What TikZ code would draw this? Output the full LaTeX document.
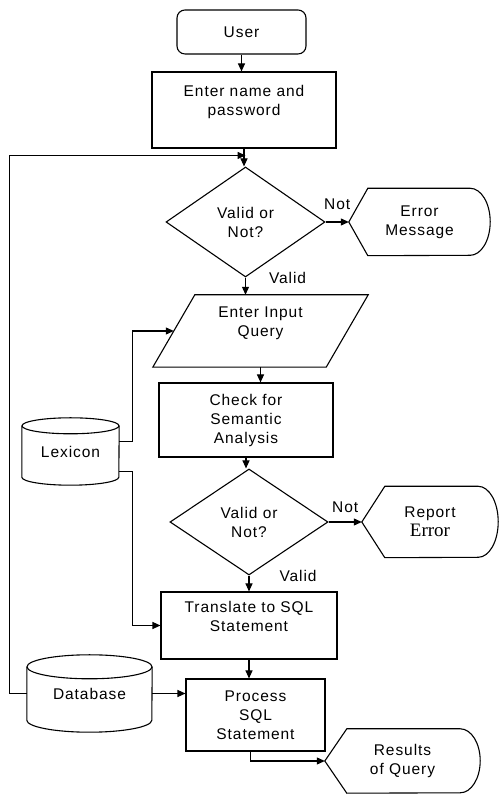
\documentclass[tikz,border=0pt]{standalone}
\usepackage{fontspec}
\setmainfont{Liberation Sans}[LetterSpace=6]
\newfontfamily\errserif{Liberation Serif}
\usepackage{tikz}
\usetikzlibrary{shapes.geometric,arrows.meta}

\tikzset{
  every node/.style={font=\fontsize{15.5}{19}\selectfont, align=center, inner sep=0pt},
  flowline/.style={line width=1.1pt},
  arr/.style={flowline, -{Triangle[length=8pt,width=7pt]}},
  procbox/.style={draw, flowline, rectangle},
  term/.style={draw, flowline, rectangle, rounded corners=8pt},
  decision/.style={draw, flowline, diamond}
}

\begin{document}
\begin{tikzpicture}[x=1pt,y=1pt]
\useasboundingbox (0,0) rectangle (500,794);

% main column
\node[term, minimum width=129pt, minimum height=44pt] (user) at (241.5,762) {User};
\node[procbox, minimum width=184pt, minimum height=76pt] (login) at (244,684) {Enter name and\\password\\\mbox{}};
\node[decision, minimum width=159pt, minimum height=110pt] (chk1) at (245.5,572) {Valid or\\Not?};
\node[minimum width=173pt, minimum height=72pt] (query) at (260.5,463) {Enter Input\\Query\\\mbox{}};
\node[procbox, minimum width=174pt, minimum height=74pt] (sem) at (246,374) {Check for\\Semantic\\Analysis};
\node[decision, minimum width=158pt, minimum height=106pt] (chk2) at (249,272) {Valid or\\Not?};
\node[procbox, minimum width=176pt, minimum height=67pt] (trans) at (249,168.5) {Translate to SQL\\Statement\\\mbox{}};
\node[procbox, minimum width=139pt, minimum height=72pt] (proc) at (255.5,79) {Process\\SQL\\Statement};

% side nodes
\node[minimum width=141pt, minimum height=67pt] (errmsg) at (419.5,572) {Error\\Message};
\node[minimum width=136pt, minimum height=71pt] (report) at (430,272) {Report\\{\errserif\fontsize{19}{23}\selectfont Error}};
\node[minimum width=155pt, minimum height=64pt] (result) at (402.5,33) {Results\\of Query};
\node[minimum width=97pt, minimum height=67pt] (lex) at (70.5,342.5) {Lexicon};
\node[minimum width=125pt, minimum height=77pt] (db) at (89.5,100.5) {Database};

% outlines
\draw[flowline] ([xshift=21pt]query.north west) -- ([xshift=21pt]query.north east)
  -- ([xshift=-21pt]query.south east) -- ([xshift=-21pt]query.south west) -- cycle;
\draw[flowline] (errmsg.west) -- ([xshift=19pt]errmsg.north west) -- ([xshift=-20pt]errmsg.north east)
  arc[start angle=90, end angle=-90, x radius=20pt, y radius=33.5pt]
  -- ([xshift=19pt]errmsg.south west) -- cycle;
\draw[flowline] (report.west) -- ([xshift=23pt]report.north west) -- ([xshift=-20pt]report.north east)
  arc[start angle=90, end angle=-90, x radius=20pt, y radius=35.5pt]
  -- ([xshift=23pt]report.south west) -- cycle;
\draw[flowline] (result.west) -- ([xshift=22pt]result.north west) -- ([xshift=-20pt]result.north east)
  arc[start angle=90, end angle=-90, x radius=20pt, y radius=32pt]
  -- ([xshift=22pt]result.south west) -- cycle;
\draw[flowline] ([yshift=-8pt]lex.north west) -- ([yshift=8pt]lex.south west)
  arc[start angle=180, end angle=360, x radius=48.5pt, y radius=8pt] -- ([yshift=-8pt]lex.north east);
\draw[flowline] ([yshift=-8pt]lex.north) ellipse[x radius=48.5pt, y radius=8pt];
\draw[flowline] ([yshift=-12pt]db.north west) -- ([yshift=12pt]db.south west)
  arc[start angle=180, end angle=360, x radius=62.5pt, y radius=12pt] -- ([yshift=-12pt]db.north east);
\draw[flowline] ([yshift=-12pt]db.north) ellipse[x radius=62.5pt, y radius=12pt];

% connectors
\coordinate (loopin) at ([yshift=11pt]chk1.north);
\draw[arr] (user.south) -- (user.south |- login.north);
\draw[arr] (login.south) -- (login.south |- chk1.north);
\draw[arr] (db.west) -- ++(-17,0) |- (loopin);
\draw[arr] (chk1.east) -- node[above=12pt] (not1) {Not} (errmsg.west);
\draw[arr] (chk1.south) -- node[pos=0, anchor=west, xshift=23pt] (valid1) {Valid} (chk1.south |- query.north);
\draw[arr] (query.south) -- (query.south |- sem.north);
\draw[arr] ([yshift=10pt]lex.east) -- ++(13,0) |- (query.west);
\draw[arr] (sem.south) -- (sem.south |- chk2.north);
\draw[arr] (chk2.east) -- node[above=9pt] (not2) {Not} (report.west);
\draw[arr] (chk2.south) -- node[pos=0, anchor=west, xshift=30pt] (valid2) {Valid} (chk2.south |- trans.north);
\draw[arr] ([yshift=-20pt]lex.east) -- ++(13,0) |- (trans.west);
\draw[arr] (trans.south) -- (trans.south |- proc.north);
\draw[arr] (db.east) -- (db.east -| proc.west);
\draw[arr] ([xshift=-5pt]proc.south) |- (result.west);
\end{tikzpicture}
\end{document}
